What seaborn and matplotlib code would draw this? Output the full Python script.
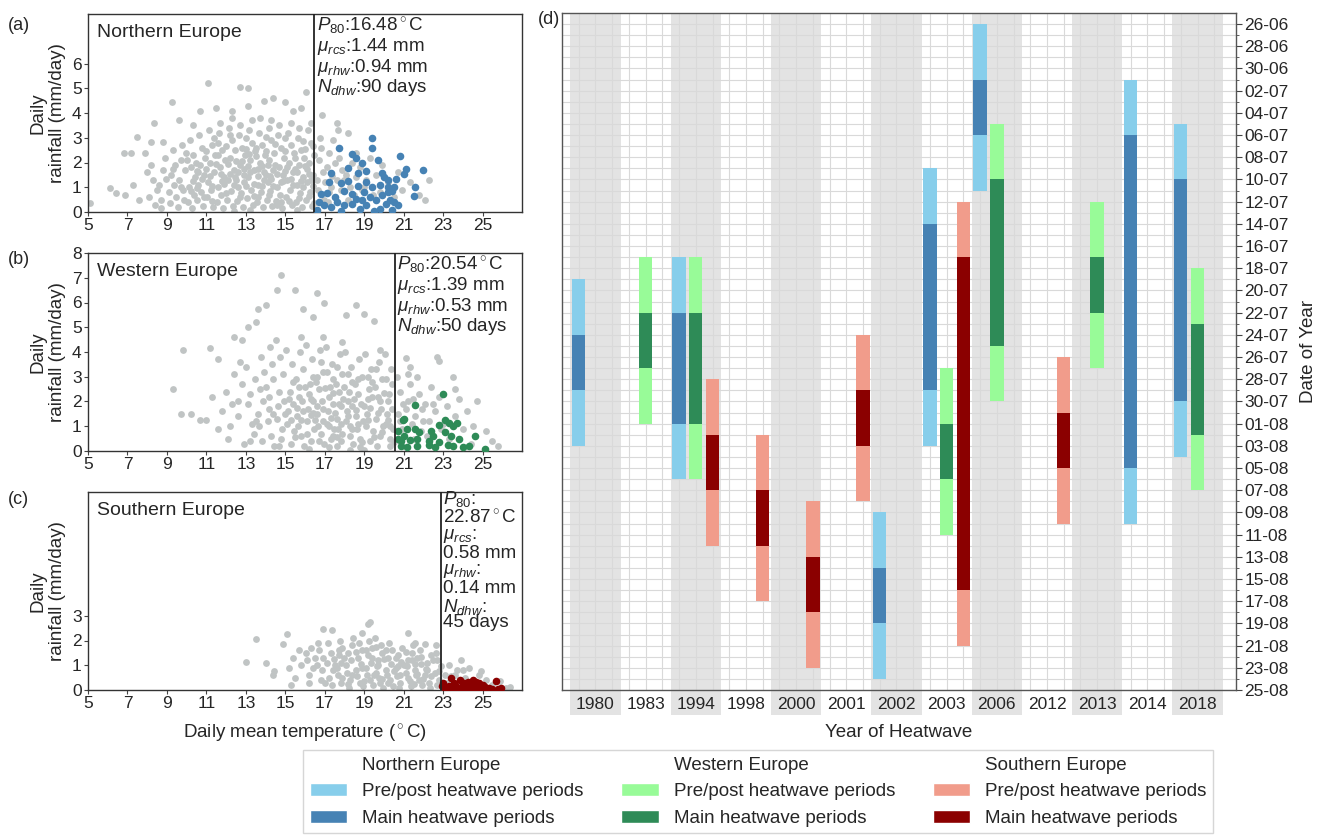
import pandas as pd
import seaborn as sns
import matplotlib.pyplot as plt
from matplotlib.patches import Patch, Rectangle
from matplotlib.transforms import blended_transform_factory

# ---------------- panels (a)-(c): temperature vs rainfall ----------------
regions = ['Northern Europe', 'Western Europe', 'Southern Europe']
p80 = [16.48, 20.54, 22.87]
mu_rcs = ['1.44', '1.39', '0.58']
mu_rhw = ['0.94', '0.53', '0.14']
n_dhw = [90, 50, 45]

ne_grey = [
    (5.1, 0.35), (6.1, 0.95), (6.4, 0.75), (6.8, 2.37), (7.2, 2.37), (7.5, 3.04), (7.9, 2.4),
    (8.35, 3.58), (8.2, 2.82), (8.8, 2.82), (9.27, 4.46), (9.6, 3.7), (10.3, 3.5), (11.1, 5.2),
    (10.7, 4.1), (11.5, 4.2), (12.3, 4.1), (12.7, 5.06), (13.1, 5.0), (13.1, 4.27), (13.9, 4.5),
    (14.4, 4.6), (15.0, 4.45), (15.4, 4.1), (16.05, 4.86), (15.8, 4.2), (16.85, 3.92), (17.6, 3.6),
    (18.2, 3.2), (18.6, 2.4), (22.3, 1.3), (7.3, 1.1), (7.6, 0.5), (6.9, 0.7),
    (8.1, 0.6), (8.3, 1.3), (8.4, 0.3), (8.2, 1.9), (8.5, 0.9), (8.0, 1.6),
    (8.6, 1.1), (8.7, 0.5), (8.8, 1.7), (8.9, 2.2), (8.7, 0.15), (8.95, 1.35),
    (9.1, 0.8), (9.2, 1.5), (9.3, 2.5), (9.15, 0.35), (9.4, 1.9), (9.35, 1.1), (9.45, 0.6),
    (9.6, 1.3), (9.7, 2.1), (9.55, 0.2), (9.8, 0.9), (9.9, 1.7), (9.75, 2.7), (9.85, 0.5), (9.95, 2.4),
    (10.1, 1.0), (10.2, 1.8), (10.05, 0.4), (10.3, 2.3), (10.4, 1.4), (10.35, 0.7), (10.15, 2.9),
    (10.45, 2.0), (10.25, 0.15),
    (10.6, 1.1), (10.7, 1.9), (10.55, 0.5), (10.8, 2.6), (10.9, 1.5), (10.75, 0.8), (10.95, 2.2),
    (10.65, 3.1), (10.85, 0.25), (10.6, 1.6),
    (11.1, 1.2), (11.2, 2.0), (11.05, 0.6), (11.3, 2.7), (11.4, 1.6), (11.25, 0.9), (11.45, 2.3),
    (11.15, 3.3), (11.35, 0.2), (11.2, 1.45), (11.4, 3.0),
    (11.6, 1.0), (11.7, 1.8), (11.55, 0.4), (11.8, 2.5), (11.9, 1.4), (11.75, 0.7), (11.95, 2.1),
    (11.65, 3.2), (11.85, 0.15), (11.6, 2.8), (11.9, 1.15), (11.7, 3.6),
    (12.1, 1.3), (12.2, 2.2), (12.05, 0.5), (12.3, 2.9), (12.4, 1.7), (12.25, 0.85), (12.45, 2.5),
    (12.15, 3.4), (12.35, 0.25), (12.1, 1.95), (12.4, 1.1), (12.3, 3.8),
    (12.6, 1.0), (12.7, 1.9), (12.55, 0.45), (12.8, 2.6), (12.9, 1.5), (12.75, 0.75), (12.95, 2.3),
    (12.65, 3.1), (12.85, 0.2), (12.6, 1.6), (12.9, 1.2), (12.7, 3.5), (12.8, 2.05),
    (13.1, 1.4), (13.2, 2.1), (13.05, 0.55), (13.3, 2.8), (13.4, 1.7), (13.25, 0.9), (13.45, 2.45),
    (13.15, 3.3), (13.35, 0.3), (13.1, 1.85), (13.4, 1.15), (13.3, 3.7), (13.2, 0.1),
    (13.6, 1.1), (13.7, 2.0), (13.55, 0.4), (13.8, 2.7), (13.9, 1.6), (13.75, 0.8), (13.95, 2.3),
    (13.65, 3.2), (13.85, 0.2), (13.6, 1.45), (13.9, 1.3), (13.7, 3.8), (13.8, 1.85),
    (14.1, 1.2), (14.2, 2.1), (14.05, 0.5), (14.3, 2.9), (14.4, 1.7), (14.25, 0.85), (14.45, 2.4),
    (14.15, 3.4), (14.35, 0.25), (14.1, 1.9), (14.4, 1.05), (14.3, 3.7),
    (14.6, 1.0), (14.7, 1.8), (14.55, 0.45), (14.8, 2.6), (14.9, 1.5), (14.75, 0.7), (14.95, 2.2),
    (14.65, 3.1), (14.85, 0.15), (14.6, 1.55), (14.9, 1.25), (14.7, 3.5),
    (15.1, 1.3), (15.2, 2.0), (15.05, 0.6), (15.3, 2.7), (15.4, 1.6), (15.25, 0.9), (15.45, 2.4),
    (15.15, 3.2), (15.35, 0.3), (15.1, 1.8), (15.4, 1.1), (15.3, 3.6),
    (15.6, 1.1), (15.7, 1.9), (15.55, 0.4), (15.8, 2.5), (15.9, 1.4), (15.75, 0.75), (15.95, 2.2),
    (15.65, 3.0), (15.85, 0.2), (15.6, 1.6), (15.9, 1.0), (15.7, 3.4),
    (16.1, 1.2), (16.2, 2.0), (16.05, 0.5), (16.3, 2.8), (16.4, 1.5), (16.25, 0.8), (16.45, 2.3),
    (16.15, 3.3), (16.35, 0.25), (16.1, 1.75), (16.4, 1.05), (16.3, 3.6),
    (16.6, 1.3), (16.7, 2.1), (16.65, 0.9), (16.8, 2.6), (16.9, 1.6), (16.75, 3.0), (16.95, 0.5),
    (17.1, 1.8), (17.2, 2.4), (17.3, 1.0), (17.4, 2.9), (17.15, 0.4), (17.35, 1.45),
    (17.6, 1.3), (17.7, 2.2), (17.8, 0.9), (17.9, 1.7), (17.65, 3.3),
    (18.1, 1.5), (18.3, 1.0), (18.4, 2.0), (18.2, 0.5), (18.6, 1.4), (18.8, 1.8), (18.9, 0.9),
    (19.1, 1.3), (19.3, 2.2), (19.45, 0.7), (19.6, 1.5), (19.8, 0.8), (19.9, 1.9),
    (20.2, 1.2), (20.5, 0.6), (20.7, 1.6), (20.9, 0.9), (21.3, 1.2), (21.8, 0.7), (22.1, 0.5),
    (10.3, 1.25), (10.5, 0.95), (10.8, 1.35), (11.0, 1.75), (11.3, 1.05), (11.5, 1.95), (11.8, 1.25),
    (12.0, 0.75), (12.2, 1.55), (12.5, 1.3), (12.7, 0.6), (12.9, 1.75), (13.0, 1.05), (13.2, 1.6),
    (13.4, 0.65), (13.5, 2.25), (13.6, 1.75), (13.8, 1.05), (14.0, 1.5), (14.2, 0.7), (14.3, 1.35),
    (14.5, 1.9), (14.6, 0.3), (14.8, 1.2), (15.0, 1.65), (15.2, 0.45), (15.3, 1.35), (15.5, 1.75),
    (15.7, 0.55), (15.8, 1.25), (16.0, 1.85), (16.2, 0.65), (16.3, 1.3), (16.45, 0.35), (11.0, 2.45),
    (11.6, 2.3), (12.0, 2.65), (12.5, 2.05), (13.0, 2.55), (13.5, 2.6), (14.0, 2.45), (14.5, 2.75),
    (15.0, 2.45), (15.5, 2.2), (16.0, 2.55), (16.4, 2.65), (10.0, 2.1), (10.5, 1.65), (9.7, 1.0),
    (9.3, 1.75), (12.2, 3.1), (13.0, 3.0), (14.0, 3.05), (15.0, 3.0), (15.9, 2.85), (11.3, 0.45),
    (12.4, 0.05), (13.6, 0.6), (14.8, 0.4), (15.6, 0.1), (16.2, 1.55), (14.25, 1.45), (13.15, 2.35),
    (12.45, 1.4), (11.75, 1.55), (10.9, 0.6), (10.2, 0.85), (17.0, 1.2), (17.5, 2.0), (17.2, 0.8),
    (18.0, 1.3), (18.5, 0.7), (19.0, 1.0),
]
ne_hot = [
    (19.4, 3.0), (19.4, 2.6), (17.7, 2.6), (18.4, 2.33), (18.6, 2.2), (18.9, 2.0), (19.7, 2.1),
    (20.8, 2.26), (22.0, 1.7), (21.1, 1.73), (21.0, 1.53), (17.3, 1.56), (18.2, 1.76), (18.7, 1.56),
    (19.1, 1.66), (20.0, 1.42), (20.6, 1.35), (17.2, 1.2), (17.8, 1.17), (18.2, 1.27), (18.7, 1.07),
    (19.1, 1.2), (19.4, 1.0), (19.8, 1.1), (20.2, 1.0), (20.4, 0.86), (21.6, 1.0), (21.5, 0.66),
    (16.8, 0.73), (17.1, 0.76), (17.5, 0.6), (18.0, 0.84), (18.4, 0.73), (18.6, 0.53), (19.0, 0.8),
    (19.3, 0.6), (19.6, 0.47), (19.9, 0.67), (20.2, 0.8), (20.3, 0.5), (20.5, 0.4), (16.7, 0.4),
    (16.95, 0.3), (17.3, 0.2), (17.6, 0.4), (18.0, 0.27), (18.4, 0.33), (18.8, 0.13), (19.1, 0.27),
    (19.8, 0.13), (20.1, 0.33), (20.4, 0.07), (16.6, 0.07), (19.5, 0.05), (17.8, 0.05),
    (19.9, 1.56), (20.2, 1.3), (20.5, 1.0), (18.9, 0.47), (20.7, 0.27),
]

we_grey = [
    (9.8, 4.1), (9.3, 2.5), (9.7, 1.48), (10.2, 1.5), (10.7, 1.25), (11.0, 1.25), (11.2, 4.15),
    (14.8, 7.1), (14.6, 6.5), (15.5, 6.5), (16.6, 6.4), (14.0, 5.9), (13.6, 5.75), (16.95, 6.0),
    (18.6, 5.9), (19.0, 5.55), (19.5, 5.25), (18.1, 5.5), (15.9, 5.75), (16.4, 5.4), (13.1, 5.0),
    (13.5, 5.2), (12.4, 4.6), (12.8, 4.5), (11.6, 3.7), (11.3, 2.2), (11.6, 0.9),
    (11.8, 1.6), (12.0, 2.4), (12.2, 1.0), (12.4, 3.1), (12.1, 0.5), (12.3, 1.9),
    (12.6, 1.4), (12.8, 2.7), (12.9, 0.3), (13.0, 3.4), (13.1, 1.9), (13.3, 1.1), (13.2, 2.3),
    (13.4, 0.7), (12.7, 3.6), (13.45, 2.9),
    (13.6, 1.5), (13.7, 2.5), (13.8, 0.4), (13.9, 3.2), (13.65, 1.0), (13.85, 2.0), (13.75, 3.8),
    (14.1, 1.2), (14.2, 2.2), (14.3, 0.6), (14.4, 2.9), (14.15, 1.7), (14.35, 3.5), (14.45, 0.2),
    (14.25, 4.2),
    (14.6, 1.3), (14.7, 2.4), (14.8, 0.5), (14.9, 3.1), (14.65, 1.8), (14.85, 0.9), (14.75, 3.8),
    (14.95, 2.0), (14.55, 4.5),
    (15.1, 1.1), (15.2, 2.1), (15.3, 0.3), (15.4, 2.8), (15.15, 1.6), (15.35, 3.5), (15.45, 0.8),
    (15.25, 2.4), (15.05, 4.1), (15.4, 1.9),
    (15.6, 1.4), (15.7, 2.6), (15.8, 0.6), (15.9, 3.3), (15.65, 1.0), (15.85, 2.0), (15.75, 4.0),
    (15.95, 0.2), (15.55, 2.9), (15.8, 4.6), (15.6, 1.75),
    (16.1, 1.2), (16.2, 2.3), (16.3, 0.4), (16.4, 3.0), (16.15, 1.7), (16.35, 3.7), (16.45, 0.9),
    (16.25, 2.7), (16.05, 4.3), (16.3, 1.45), (16.2, 0.1), (16.4, 2.0),
    (16.6, 1.5), (16.7, 2.5), (16.8, 0.7), (16.9, 3.2), (16.65, 1.0), (16.85, 2.0), (16.75, 4.1),
    (16.95, 0.3), (16.55, 2.8), (16.8, 3.6), (16.6, 1.8), (16.9, 4.6),
    (17.1, 1.1), (17.2, 2.2), (17.3, 0.5), (17.4, 2.9), (17.15, 1.6), (17.35, 3.5), (17.45, 0.9),
    (17.25, 2.6), (17.05, 4.2), (17.3, 1.35), (17.2, 0.15), (17.4, 1.9),
    (17.6, 1.3), (17.7, 2.4), (17.8, 0.4), (17.9, 3.1), (17.65, 0.9), (17.85, 1.8), (17.75, 3.9),
    (17.95, 2.1), (17.55, 2.7), (17.8, 1.1), (17.6, 0.2), (17.9, 4.4),
    (18.1, 1.2), (18.2, 2.0), (18.3, 0.6), (18.4, 2.8), (18.15, 1.6), (18.35, 3.4), (18.45, 0.3),
    (18.25, 2.4), (18.05, 4.0), (18.3, 1.0), (18.4, 1.8),
    (18.6, 1.4), (18.7, 2.3), (18.8, 0.5), (18.9, 3.0), (18.65, 0.9), (18.85, 1.9), (18.75, 3.7),
    (18.95, 1.2), (18.55, 2.7), (18.8, 0.15),
    (19.1, 1.0), (19.2, 2.1), (19.3, 0.4), (19.4, 2.8), (19.15, 1.5), (19.35, 3.3), (19.45, 0.8),
    (19.25, 2.5), (19.05, 3.9), (19.3, 1.75),
    (19.6, 1.3), (19.7, 2.2), (19.8, 0.6), (19.9, 2.9), (19.65, 0.2), (19.85, 1.7), (19.75, 3.6),
    (19.95, 1.0), (19.55, 2.6), (19.8, 4.1),
    (20.1, 1.1), (20.2, 2.0), (20.3, 0.5), (20.4, 2.7), (20.15, 1.5), (20.35, 3.3), (20.45, 0.9),
    (20.25, 2.3), (20.05, 3.9), (20.3, 0.2),
    (20.7, 1.5), (20.8, 2.4), (20.9, 0.9), (20.65, 3.0), (20.95, 1.9), (21.1, 3.75), (21.3, 3.4),
    (21.1, 1.7), (21.3, 2.7), (21.4, 1.1), (21.2, 3.1), (21.45, 2.1),
    (21.6, 1.4), (21.8, 2.3), (21.9, 0.8), (21.7, 3.0), (21.95, 1.7),
    (22.1, 1.9), (22.3, 1.2), (22.4, 2.6), (22.2, 0.6), (22.7, 3.8), (22.8, 3.65),
    (22.6, 1.6), (22.8, 2.2), (22.9, 0.9), (23.2, 1.8), (23.5, 3.0), (23.6, 1.4), (23.8, 2.1),
    (23.3, 0.5), (24.2, 1.6), (24.5, 1.0), (24.7, 2.0), (24.4, 0.3), (25.2, 0.8), (25.5, 0.4),
    (25.8, 0.2),
    (15.3, 1.25), (15.5, 0.55), (15.7, 2.2), (15.9, 1.6), (16.1, 0.7), (16.3, 2.1), (16.5, 1.25),
    (16.7, 0.4), (16.9, 1.7), (17.0, 2.55), (17.2, 1.0), (17.4, 0.6), (17.5, 1.55), (17.7, 1.9),
    (17.9, 0.7), (18.0, 2.6), (18.2, 1.4), (18.4, 0.9), (18.5, 2.1), (18.7, 1.1), (18.9, 0.35),
    (19.0, 1.8), (19.2, 1.25), (19.4, 2.2), (19.5, 0.55), (19.7, 1.55), (19.9, 0.75), (20.0, 2.35),
    (20.2, 1.25), (20.4, 1.7), (20.5, 0.35), (16.0, 2.6), (16.6, 3.0), (17.1, 3.2), (17.6, 3.4),
    (18.2, 3.1), (18.7, 2.9), (19.2, 3.0), (19.6, 3.3), (20.1, 2.9), (14.4, 1.5), (14.0, 2.6),
    (14.7, 0.2), (15.0, 1.5), (13.5, 1.2), (13.2, 0.4), (12.6, 2.0), (19.0, 0.05), (18.3, 0.05),
    (17.6, 0.55), (16.9, 1.2), (16.4, 1.55), (20.3, 1.0), (19.8, 2.0), (18.6, 1.65), (17.4, 2.35),
    (15.8, 1.25), (20.8, 1.2), (21.2, 2.0), (21.5, 0.5), (22.0, 1.2), (22.5, 1.9), (23.0, 1.1),
    (23.6, 2.5), (24.0, 0.9),
]
we_hot = [
    (23.0, 2.3), (21.6, 1.85), (20.95, 1.25), (23.1, 1.25), (23.3, 1.15), (23.7, 1.13), (23.5, 1.0),
    (22.8, 1.05), (22.4, 0.8), (23.1, 0.75), (23.4, 0.6), (24.6, 0.6), (23.8, 0.5), (20.7, 0.5),
    (21.0, 0.6), (21.6, 0.9), (21.8, 0.75), (21.3, 0.45), (22.3, 0.4), (22.5, 0.6), (22.8, 0.35),
    (20.85, 0.2), (21.15, 0.15), (21.7, 0.2), (22.3, 0.25), (22.6, 0.15), (23.25, 0.25), (23.5, 0.2),
    (24.0, 0.15), (24.3, 0.2), (25.1, 0.1), (21.15, 0.9), (21.0, 1.28), (21.7, 0.5), (20.85, 0.42),
    (20.7, 0.8),
]

se_grey = [
    (13.5, 2.05), (13.0, 1.15), (14.0, 1.1), (14.45, 0.77), (14.4, 0.6), (14.9, 1.85), (15.1, 2.26),
    (16.9, 2.46), (17.35, 2.42), (19.18, 2.67), (19.3, 2.75), (18.9, 2.3), (21.2, 2.3), (21.6, 1.9),
    (22.1, 1.85), (22.65, 1.8), (24.9, 0.75), (26.4, 0.12),
    (15.2, 0.9), (15.4, 1.3), (15.5, 0.5), (15.7, 1.6), (15.8, 1.0), (15.3, 0.2),
    (16.1, 1.2), (16.2, 0.6), (16.3, 1.7), (16.4, 0.9), (16.05, 1.5),
    (16.6, 1.0), (16.7, 1.6), (16.8, 0.4), (16.9, 1.3), (16.65, 1.9), (16.85, 0.8),
    (17.1, 1.1), (17.2, 0.5), (17.3, 1.5), (17.4, 0.8), (17.15, 1.9), (17.35, 0.2), (17.45, 1.25),
    (17.6, 0.9), (17.7, 1.4), (17.8, 0.3), (17.9, 1.7), (17.65, 0.6), (17.85, 1.1), (17.75, 2.0),
    (18.1, 1.0), (18.2, 1.5), (18.3, 0.4), (18.4, 1.8), (18.15, 0.7), (18.35, 1.2), (18.25, 0.1),
    (18.45, 2.1),
    (18.6, 0.8), (18.7, 1.3), (18.8, 0.3), (18.9, 1.6), (18.65, 0.55), (18.85, 1.05), (18.75, 1.9),
    (18.95, 0.15),
    (19.1, 0.9), (19.2, 1.4), (19.3, 0.4), (19.4, 1.7), (19.15, 0.6), (19.35, 1.1), (19.25, 2.0),
    (19.45, 0.2),
    (19.6, 0.7), (19.7, 1.2), (19.8, 0.3), (19.9, 1.5), (19.65, 0.95), (19.85, 1.8), (19.75, 0.5),
    (19.95, 0.1), (19.55, 2.1),
    (20.1, 0.8), (20.2, 1.3), (20.3, 0.4), (20.4, 1.6), (20.15, 0.6), (20.35, 1.05), (20.25, 1.9),
    (20.45, 0.15),
    (20.6, 0.9), (20.7, 1.4), (20.8, 0.3), (20.9, 1.7), (20.65, 0.55), (20.85, 1.15), (20.75, 0.1),
    (21.1, 0.7), (21.2, 1.2), (21.3, 0.35), (21.4, 1.5), (21.15, 0.95), (21.35, 0.15), (21.45, 1.8),
    (21.6, 0.8), (21.7, 1.3), (21.8, 0.4), (21.9, 1.05), (21.65, 0.6), (21.85, 1.6), (21.95, 0.2),
    (22.1, 0.6), (22.2, 1.1), (22.3, 0.3), (22.4, 1.4), (22.15, 0.85), (22.35, 0.1),
    (22.6, 0.7), (22.7, 1.2), (22.8, 0.4), (22.9, 0.95), (22.65, 1.5),
    (23.1, 0.6), (23.3, 1.0), (23.5, 0.3), (23.7, 0.8), (23.9, 1.2), (23.4, 0.55),
    (24.1, 0.5), (24.3, 0.9), (24.6, 0.3), (24.8, 0.6), (24.4, 0.15),
    (25.2, 0.4), (25.5, 0.2), (25.9, 0.35), (26.2, 0.1),
    (17.5, 1.0), (17.9, 0.5), (18.0, 1.3), (18.4, 0.6), (18.6, 1.55), (18.9, 0.9), (19.0, 0.35),
    (19.4, 1.3), (19.5, 0.6), (19.7, 1.0), (19.9, 0.45), (20.0, 1.25), (20.2, 0.3), (20.5, 0.75),
    (20.6, 1.3), (20.8, 0.6), (21.0, 1.0), (21.2, 0.5), (21.4, 1.2), (21.5, 0.25), (21.7, 0.65),
    (21.9, 1.35), (22.0, 0.45), (22.2, 0.8), (22.4, 0.55), (22.5, 1.2), (22.7, 0.2), (22.8, 0.75),
    (18.2, 0.25), (19.1, 1.6), (20.1, 1.6), (21.1, 1.55), (16.5, 1.3), (16.2, 0.3), (17.0, 0.3),
    (17.7, 1.6), (19.6, 1.75), (20.7, 0.95), (21.6, 1.05), (23.2, 0.3), (23.6, 0.6), (24.0, 0.8),
]
se_hot = [
    (23.0, 0.27), (23.4, 0.47), (23.85, 0.4), (24.25, 0.32), (24.5, 0.4), (24.8, 0.27), (25.7, 0.37),
    (25.0, 0.2), (23.1, 0.1), (23.2, 0.05), (23.3, 0.15), (23.5, 0.08), (23.6, 0.2), (23.7, 0.05),
    (23.9, 0.12), (24.0, 0.03), (24.1, 0.2), (24.2, 0.08), (24.35, 0.15), (24.45, 0.05), (24.6, 0.22),
    (24.7, 0.1), (24.9, 0.05), (25.1, 0.12), (25.2, 0.04), (25.35, 0.1), (25.5, 0.06), (25.8, 0.03),
    (25.95, 0.08), (24.65, 0.33), (24.05, 0.28), (23.55, 0.3), (22.95, 0.15),
]

# ---------------- panel (d): heatwave periods ----------------
years = ['1980', '1983', '1994', '1998', '2000', '2001', '2002', '2003', '2006', '2012',
         '2013', '2014', '2018']
hw_year = ['1980', '1983', '1994', '1994', '1994', '1998', '2000', '2001', '2002', '2003',
           '2003', '2003', '2006', '2006', '2012', '2013', '2014', '2018', '2018']
hw_region = ['Northern Europe', 'Western Europe', 'Northern Europe', 'Western Europe',
             'Southern Europe', 'Southern Europe', 'Southern Europe', 'Southern Europe',
             'Northern Europe', 'Northern Europe', 'Western Europe', 'Southern Europe',
             'Northern Europe', 'Western Europe', 'Southern Europe', 'Western Europe',
             'Northern Europe', 'Northern Europe', 'Western Europe']
pre_start = ['19-07', '17-07', '17-07', '17-07', '28-07', '02-08', '08-08', '24-07', '09-08',
             '09-07', '27-07', '12-07', '26-06', '05-07', '26-07', '12-07', '01-07', '05-07',
             '18-07']
main_start = ['24-07', '22-07', '22-07', '22-07', '02-08', '07-08', '13-08', '29-07', '14-08',
              '14-07', '01-08', '17-07', '01-07', '10-07', '31-07', '17-07', '06-07', '10-07',
              '23-07']
main_end = ['29-07', '27-07', '01-08', '01-08', '07-08', '12-08', '18-08', '03-08', '19-08',
            '29-07', '06-08', '16-08', '06-07', '25-07', '05-08', '22-07', '05-08', '30-07',
            '02-08']
post_end = ['03-08', '01-08', '06-08', '06-08', '12-08', '17-08', '23-08', '08-08', '24-08',
            '03-08', '11-08', '21-08', '11-07', '30-07', '10-08', '27-07', '10-08', '04-08',
            '07-08']
date_ticks = ['26-06', '28-06', '30-06', '02-07', '04-07', '06-07', '08-07', '10-07', '12-07',
              '14-07', '16-07', '18-07', '20-07', '22-07', '24-07', '26-07', '28-07', '30-07',
              '01-08', '03-08', '05-08', '07-08', '09-08', '11-08', '13-08', '15-08', '17-08',
              '19-08', '21-08', '23-08', '25-08']

pre_colors = ['#87CEEB', '#98FB98', '#F19C8B']
main_colors = ['#4682B4', '#2E8B57', '#8B0000']
grey_dot = '#C0C4C4'
band_grey = '#E3E3E3'

sns.set_style('ticks')
plt.rcParams['font.family'] = ['Liberation Sans', 'DejaVu Sans']
plt.rcParams['mathtext.fontset'] = 'custom'
plt.rcParams['mathtext.rm'] = 'Liberation Sans'
plt.rcParams['mathtext.it'] = 'Liberation Sans:italic'
plt.rcParams['mathtext.bf'] = 'Liberation Sans:bold'

FW, FH = 1318, 835
fig = plt.figure(figsize=(FW / 100, FH / 100), dpi=100)


def box(left, top, right, bottom):
    return [left / FW, 1 - bottom / FH, (right - left) / FW, (bottom - top) / FH]


def fig_text(x, y, s, **kw):
    fig.text(x / FW, 1 - y / FH, s, **kw)


scatter_axes = [fig.add_axes(box(88, 14, 522, 212)),
                fig.add_axes(box(88, 253, 522, 451)),
                fig.add_axes(box(88, 492, 522, 690))]
grey_sets = [ne_grey, we_grey, se_grey]
hot_sets = [ne_hot, we_hot, se_hot]
y_tick_max = [6, 8, 3]

for k, ax in enumerate(scatter_axes):
    grey = pd.DataFrame(grey_sets[k], columns=['temp', 'rain'])
    hot = pd.DataFrame(hot_sets[k], columns=['temp', 'rain'])
    sns.scatterplot(data=grey, x='temp', y='rain', color=grey_dot, s=24, linewidth=0,
                    ax=ax, zorder=2)
    sns.scatterplot(data=hot, x='temp', y='rain', color=main_colors[k], s=30, linewidth=0,
                    ax=ax, zorder=3)
    ax.axvline(p80[k], color='#222222', lw=1.3, zorder=4)
    ax.set_xlim(5, 27)
    ax.set_ylim(0, 8)
    ax.set_xticks(range(5, 27, 2))
    ax.set_yticks(range(0, y_tick_max[k] + 1))
    ax.tick_params(labelsize=12.5, length=3, pad=1.5, color='#444444')
    ax.set_ylabel('Daily\nrainfall (mm/day)', fontsize=13.5, labelpad=4)
    ax.set_xlabel('')
    for sp in ax.spines.values():
        sp.set_color('#333333')
        sp.set_linewidth(1.0)
    ax.text(0.02, 0.905, regions[k], transform=ax.transAxes, fontsize=14, va='center')

    tr = blended_transform_factory(ax.transData, ax.transAxes)
    x0 = p80[k] + 0.12
    if k < 2:
        lines = [rf'$P_{{80}}$:{p80[k]:.2f}$^\circ$C', rf'$\mu_{{rcs}}$:{mu_rcs[k]} mm',
                 rf'$\mu_{{rhw}}$:{mu_rhw[k]} mm', rf'$N_{{dhw}}$:{n_dhw[k]} days']
        ys = [0.94, 0.835, 0.73, 0.627]
    else:
        lines = [r'$P_{80}$:', f'{p80[k]:.2f}$^\\circ$C', r'$\mu_{rcs}$:', f'{mu_rcs[k]} mm',
                 r'$\mu_{rhw}$:', f'{mu_rhw[k]} mm', r'$N_{dhw}$:', f'{n_dhw[k]} days']
        ys = [0.963, 0.867, 0.779, 0.69, 0.602, 0.513, 0.421, 0.34]
    for s, yy in zip(lines, ys):
        ax.text(x0, yy, s, transform=tr, fontsize=13.5, va='center', ha='left')

scatter_axes[2].set_xlabel('Daily mean temperature ($^\\circ$C)', fontsize=13.5, labelpad=8)

for lab, y in zip(['(a)', '(b)', '(c)'], [25, 260, 500]):
    fig_text(8, y, lab, fontsize=13, va='center')
fig_text(538, 20, '(d)', fontsize=13, va='center')

# ---------------- panel (d) ----------------
axd = fig.add_axes(box(562, 13, 1236, 690))
ref_day = pd.to_datetime('26-06', format='%d-%m')


def day_no(s):
    return (pd.to_datetime(s, format='%d-%m') - ref_day).days


slot = {y: i for i, y in enumerate(years)}
reg_k = {r: i for i, r in enumerate(regions)}
tr_d = blended_transform_factory(axd.transData, axd.transAxes)
for i in range(0, len(years), 2):
    axd.axvspan(3 * i - 0.5, 3 * i + 2.5, color=band_grey, lw=0, zorder=0)
    axd.add_patch(Rectangle((3 * i - 0.5, -0.037), 3, 0.037, transform=tr_d,
                            color=band_grey, lw=0, clip_on=False, zorder=0))

for yr, reg, ps, ms, me, pe in zip(hw_year, hw_region, pre_start, main_start, main_end, post_end):
    k = reg_k[reg]
    x = 3 * slot[yr] + k
    a, b, c, d = day_no(ps), day_no(ms), day_no(me), day_no(pe)
    bar_kw = dict(width=0.8, linewidth=0, edgecolor='none', zorder=3)
    axd.bar(x, b - a, bottom=a, color=pre_colors[k], **bar_kw)
    axd.bar(x, d - c, bottom=c, color=pre_colors[k], **bar_kw)
    axd.bar(x, c - b, bottom=b, color=main_colors[k], **bar_kw)

axd.set_xlim(-1, 39.3)
axd.set_ylim(60, -1)
axd.set_xticks([3 * i + 1 for i in range(len(years))], labels=years, fontsize=12.5)
axd.set_xticks(range(3 * len(years)), minor=True)
axd.set_yticks(range(0, 61, 2), labels=date_ticks, fontsize=12.5)
axd.set_yticks(range(0, 61), minor=True)
axd.yaxis.tick_right()
axd.yaxis.set_label_position('right')
axd.set_axisbelow(True)
axd.grid(True, which='both', color='#D9D9D9', lw=0.8)
axd.tick_params(axis='x', which='both', length=0, pad=5)
axd.tick_params(axis='y', which='major', length=4, pad=2, color='#444444')
axd.tick_params(axis='y', which='minor', length=2, color='#444444')
for sp in axd.spines.values():
    sp.set_color('#555555')
    sp.set_linewidth(1.0)
axd.set_xlabel('Year of Heatwave', fontsize=13.5, labelpad=9)
axd.set_ylabel('Date of Year', fontsize=13.5, labelpad=8)

# ---------------- legend ----------------
handles, labels = [], []
for k, reg in enumerate(regions):
    handles += [Patch(facecolor='none', edgecolor='none'),
                Patch(facecolor=pre_colors[k]), Patch(facecolor=main_colors[k])]
    labels += [reg, 'Pre/post heatwave periods', 'Main heatwave periods']
fig.legend(handles, labels, ncol=3, loc='upper right',
           bbox_to_anchor=(1213 / FW, 1 - 750 / FH), borderaxespad=0, fontsize=13.5,
           frameon=True, fancybox=False, edgecolor='#D6D6D6', framealpha=1,
           handlelength=2.0, handleheight=0.7, handletextpad=0.8, columnspacing=2.0,
           labelspacing=0.5, borderpad=0.35)

fig.savefig('out.png', dpi=100)
